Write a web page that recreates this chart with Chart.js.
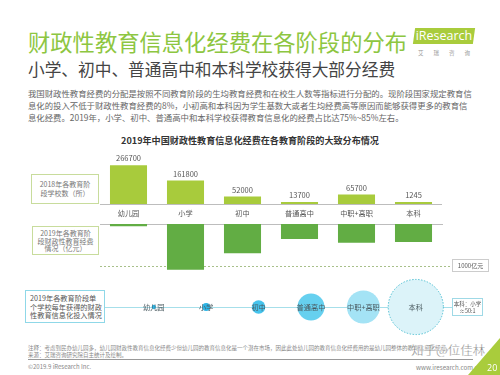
<!DOCTYPE html>
<html lang="zh">
<head>
    <meta charset="UTF-8">
    <title>财政性教育信息化经费在各阶段的分布</title>
    <script src="https://cdn.jsdelivr.net/npm/chart.js"></script>
    <style>
        body {
            margin: 0;
            padding: 0;
            background: #fff;
            font-family: 'Noto Sans CJK SC', 'Noto Sans', sans-serif;
            color: #555;
        }
        .page {
            position: relative;
            width: 500px;
            height: 375px;
            overflow: hidden;
        }
        .abs { position: absolute; white-space: nowrap; }
        .title {
            left: 28px; top: 30px;
            font-size: 22.3px; line-height: 22px;
            color: #8dc641;
        }
        .subtitle {
            left: 28px; top: 61px;
            font-size: 16.7px; line-height: 17px;
            color: #444;
        }
        .intro {
            left: 28px; top: 87px;
            font-size: 8.4px; line-height: 12px;
            color: #666;
        }
        .logo {
            left: 414px; top: 28px; width: 60px; height: 16px;
            background: #a9cc3c;
            transform: skewX(-8deg);
        }
        .logo span {
            display: block; transform: skewX(8deg);
            color: #fff; font-family: 'Open Sans', sans-serif;
            font-size: 12.5px; line-height: 16px; text-align: center;
        }
        .logo-cn {
            left: 418px; top: 49px;
            font-size: 5.5px; letter-spacing: 10px; color: #999;
        }
        .chart-title {
            left: 0; width: 500px; top: 134px;
            text-align: center;
            font-size: 9.1px; line-height: 12px; font-weight: bold;
            color: #333;
        }
        .box {
            position: absolute;
            box-sizing: border-box;
            text-align: center;
            font-size: 7px;
            color: #777;
            white-space: nowrap;
        }
        .green-box { border: 1px solid #c8dc9c; }
        .cyan-box { border: 1px solid #8fd8e8; }
        canvas { position: absolute; }
        .foot {
            left: 28px; font-size: 5.5px; line-height: 7px; color: #888;
        }
        .rule {
            position: absolute; left: 28px; top: 359px; width: 445px; height: 1px;
            background: #999;
        }
        .corner {
            position: absolute; left: 468px; top: 338px; width: 32px; height: 37px;
            background: #a9cc3c;
            clip-path: polygon(100% 0, 100% 100%, 0 100%);
        }
    </style>
</head>
<body>
<div class="page">
    <div class="abs title">财政性教育信息化经费在各阶段的分布</div>
    <div class="abs subtitle">小学、初中、普通高中和本科学校获得大部分经费</div>
    <div class="abs intro">
        我国财政性教育经费的分配是按照不同教育阶段的生均教育经费和在校生人数等指标进行分配的。现阶段国家规定教育信<br>
        息化的投入不低于财政性教育经费的8%，小初高和本科因为学生基数大或者生均经费高等原因而能够获得更多的教育信<br>
        息化经费。2019年，小学、初中、普通高中和本科学校获得教育信息化的经费占比达75%~85%左右。
    </div>
    <div class="abs logo"><span>iResearch</span></div>
    <div class="abs logo-cn">艾瑞咨询</div>

    <div class="abs chart-title">2019年中国财政性教育信息化经费在各教育阶段的大致分布情况</div>

    <div class="box green-box" style="left:31px; top:174px; width:68px; height:30px; line-height:9px; padding-top:5px;">2018年各教育阶<br>段学校数（所）</div>
    <div class="box green-box" style="left:32px; top:226px; width:67px; height:29px; line-height:7.6px; padding-top:3px;">2019年各教育阶<br>段财政性教育经费<br>情况（亿元）</div>
    <div class="box cyan-box" style="left:25px; top:290px; width:80px; height:33px; line-height:8.6px; padding-top:3px; padding-left:4px; text-align:left; font-size:7.2px; color:#555;">2019年各教育阶段单<br>个学校每年获得的财政<br>性教育信息化投入情况</div>

    <canvas id="schoolChart"></canvas>
    <canvas id="fundChart"></canvas>
    <canvas id="bubbleChart"></canvas>

    <div class="box" style="left:452px; top:259px; width:37px; height:13px; line-height:11px; border:1px solid #ccc; font-size:6px; color:#555;">1000亿元</div>
    <div class="box" style="left:452px; top:298px; width:31px; height:18px; line-height:7px; padding-top:1.5px; border:1px solid #9fd9e6; font-size:5.5px; color:#555;">本科：小学<br>≈50:1</div>

    <div class="abs foot" style="top:345px;">注释：考虑到民办幼儿园多，幼儿园财政性教育信息化经费少但幼儿园的教育信息化是一个潜在市场，因此此处幼儿园的教育信息化经费用的是幼儿园整体的教育信息化经费。</div>
    <div class="abs foot" style="top:352px;">来源：艾瑞咨询研究院自主统计及绘制。</div>
    <div class="rule"></div>
    <div class="abs foot" style="top:363px; font-size:6px;">©2019.9 iResearch Inc.</div>
    <div class="abs" style="left:416px; top:363px; font-size:6.2px; color:#888;">www.iresearch.com.cn</div>
    <div class="abs" style="left:411px; top:342px; font-size:12.5px; line-height:15px; color:rgba(80,80,80,0.75); -webkit-text-stroke:0.3px #fff;">知乎@位佳林</div>
    <div class="corner"></div>
    <div class="abs" style="left:487px; top:362px; font-size:9px; line-height:11px; color:#fff; font-family:'Open Sans',sans-serif;">20</div>
</div>

<script>
    const categories = ['幼儿园', '小学', '初中', '普通高中', '中职+高职', '本科'];
    const schoolCounts = [266700, 161800, 52000, 13700, 65700, 1245];   // 2018 学校数（所）
    const funding = [55, 1100, 700, 360, 450, 430];                   // 2019 经费（亿元）
    const perSchool = [0.3, 1, 3, 12, 18, 50];                         // 单校投入，小学 = 1
    const fundReference = 1000;                                        // 1000亿元 参考线

    const labelFont = { family: 'Noto Sans CJK SC', size: 7.2 };

    function place(id, left, top, width, height) {
        const c = document.getElementById(id);
        c.style.left = left + 'px';
        c.style.top = top + 'px';
        c.style.width = width + 'px';
        c.style.height = height + 'px';
        c.width = width;
        c.height = height;
        return c;
    }

    // value labels above the upper bars
    const valueLabels = {
        id: 'valueLabels',
        afterDatasetsDraw(chart) {
            const ctx = chart.ctx;
            const meta = chart.getDatasetMeta(0);
            ctx.save();
            ctx.font = '7.5px "Noto Sans CJK SC"';
            ctx.fillStyle = '#555';
            ctx.textAlign = 'center';
            ctx.textBaseline = 'bottom';
            meta.data.forEach((bar, i) => {
                ctx.fillText(schoolCounts[i], bar.x, bar.y - 3);
            });
            ctx.restore();
        }
    };

    // dashed 1000亿元 line under the lower bars
    const refLine = {
        id: 'refLine',
        beforeDatasetsDraw(chart) {
            const ctx = chart.ctx;
            const y = Math.round(chart.scales.y.getPixelForValue(fundReference)) + 0.5;
            ctx.save();
            ctx.strokeStyle = '#a8c08a';
            ctx.lineWidth = 1;
            ctx.setLineDash([2, 2]);
            ctx.beginPath();
            ctx.moveTo(chart.chartArea.left, y);
            ctx.lineTo(chart.chartArea.right + 10, y);
            ctx.stroke();
            ctx.restore();
        }
    };

    // connecting line and stage names for the bubble row
    const bubbleDecor = {
        id: 'bubbleDecor',
        beforeDatasetsDraw(chart) {
            const ctx = chart.ctx;
            const y = Math.round(chart.scales.y.getPixelForValue(0)) + 0.5;
            ctx.save();
            ctx.strokeStyle = '#a6dfea';
            ctx.lineWidth = 1;
            ctx.beginPath();
            ctx.moveTo(5, y);
            ctx.lineTo(chart.chartArea.right + 10, y);
            ctx.stroke();
            ctx.restore();
        },
        afterDatasetsDraw(chart) {
            const ctx = chart.ctx;
            const meta = chart.getDatasetMeta(0);
            ctx.save();
            // dotted outline on the biggest bubble
            const last = meta.data[meta.data.length - 1];
            ctx.strokeStyle = '#4fbfd2';
            ctx.lineWidth = 1;
            ctx.setLineDash([1.5, 1.5]);
            ctx.beginPath();
            ctx.arc(last.x, last.y, last.options.radius, 0, Math.PI * 2);
            ctx.stroke();
            ctx.setLineDash([]);
            ctx.font = '7.2px "Noto Sans CJK SC"';
            ctx.fillStyle = '#4a5a60';
            ctx.textAlign = 'center';
            ctx.textBaseline = 'middle';
            meta.data.forEach((pt, i) => {
                ctx.fillText(categories[i], pt.x, pt.y);
            });
            ctx.restore();
        }
    };

    // upper bars: school counts
    new Chart(place('schoolChart', 100, 140, 342, 84), {
        type: 'bar',
        data: {
            labels: categories,
            datasets: [{
                data: schoolCounts,
                backgroundColor: '#a8cb3c',
                barPercentage: 0.65,
                categoryPercentage: 1,
                minBarLength: 2
            }]
        },
        options: {
            responsive: false,
            animation: false,
            plugins: { legend: { display: false }, tooltip: { enabled: false } },
            layout: { padding: 0 },
            scales: {
                x: {
                    grid: { display: false, drawTicks: false },
                    border: { display: true, color: '#bdbdbd', width: 1 },
                    ticks: { font: labelFont, color: '#555', padding: 5 },
                    afterFit: (scale) => { scale.height = 20; }
                },
                y: { display: false, min: 0, max: 440000 }
            }
        },
        plugins: [valueLabels]
    });

    // lower bars: funding, hanging down
    new Chart(place('fundChart', 100, 224, 395, 50), {
        type: 'bar',
        data: {
            labels: categories,
            datasets: [{
                data: funding,
                backgroundColor: '#62ad44',
                barPercentage: 0.65,
                categoryPercentage: 1
            }]
        },
        options: {
            responsive: false,
            animation: false,
            plugins: { legend: { display: false }, tooltip: { enabled: false } },
            layout: { padding: { right: 53 } },
            scales: {
                x: {
                    position: 'top',
                    grid: { display: false, drawTicks: false },
                    border: { display: true, color: '#bdbdbd', width: 1 },
                    ticks: { display: false },
                    afterFit: (scale) => { scale.height = 0; }
                },
                y: { display: false, reverse: true, min: 0, max: 1200 }
            }
        },
        plugins: [refLine]
    });

    // bubble row: per-school investment (area ~ value)
    const bubbleData = perSchool.map((v, i) => ({ x: i, y: 0, r: 3.9 * Math.sqrt(v) }));
    new Chart(place('bubbleChart', 100, 277, 395, 60), {
        type: 'bubble',
        data: {
            datasets: [{
                data: bubbleData,
                backgroundColor: ['#2db5e6', '#2db5e6', '#45c3ec', '#66d0ef', '#a4e3f5', '#dcf3f9'],
                borderWidth: 0,
                clip: false
            }]
        },
        options: {
            responsive: false,
            animation: false,
            plugins: { legend: { display: false }, tooltip: { enabled: false } },
            layout: { padding: { right: 53 } },
            scales: {
                x: { display: false, min: -0.5, max: 5.5 },
                y: { display: false, min: -1, max: 1 }
            }
        },
        plugins: [bubbleDecor]
    });
</script>
</body>
</html>
